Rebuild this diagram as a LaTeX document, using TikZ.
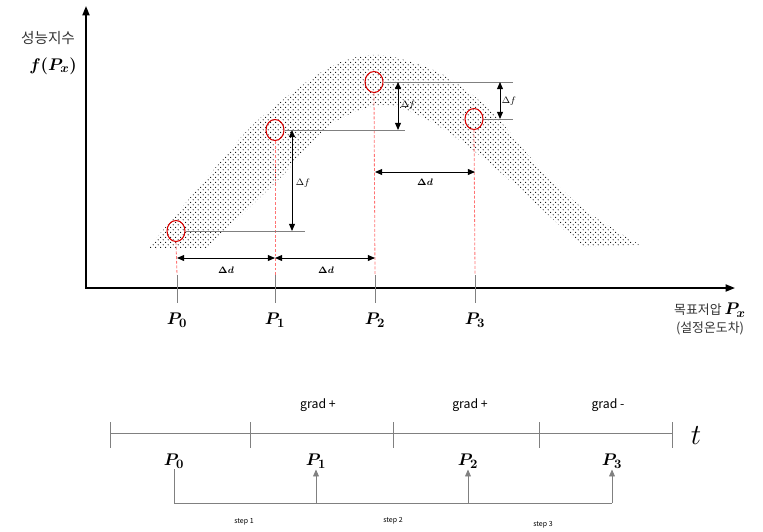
\documentclass[tikz,border=0pt]{standalone}
\usepackage{fontspec}
\usepackage{amsmath,bm}
\newfontfamily\kr{Noto Sans CJK KR}
\usetikzlibrary{arrows.meta,positioning,calc,shapes.geometric,patterns.meta}

\tikzdeclarepattern{
  name=banddots,
  type=uncolored,
  bounding box={(0pt,0pt) and (4.2pt,4.2pt)},
  tile size={(4.2pt,4.2pt)},
  code={
    \fill (1.05pt,1.05pt) circle (0.5pt);
    \fill (3.15pt,3.15pt) circle (0.5pt);
  }
}

\begin{document}
\begin{tikzpicture}[
  x=0.03cm, y=-0.03cm,
  font=\kr,
  axis/.style={line width=1.5pt, {Triangle[length=8pt,width=6pt]}-{Triangle[length=8pt,width=6pt]}},
  pt/.style={draw=red!85!black, line width=0.9pt, ellipse, inner sep=0pt, minimum width=0.54cm, minimum height=0.63cm},
  gline/.style={draw=gray, line width=0.8pt},
  rdash/.style={draw=red!55, dashed, line width=0.7pt, dash pattern=on 2.5pt off 1.5pt},
  dim/.style={line width=0.8pt, {Triangle[length=6pt,width=5pt]}-{Triangle[length=6pt,width=5pt]}},
  uparr/.style={gline, -{Triangle[length=6pt,width=5pt]}},
  plab/.style={font=\fontsize{15}{17}\selectfont, inner sep=1pt},
  dlab/.style={font=\fontsize{8}{9}\selectfont},
  glab/.style={font=\kr\fontsize{10.5}{12}\selectfont},
  slab/.style={font=\kr\fontsize{6}{7}\selectfont}
]
\useasboundingbox (0,0) rectangle (763,531);

% dotted band
\fill[pattern=banddots, pattern color=black]
  plot[smooth] coordinates {(148,248) (205,180) (258,120) (330,67) (380,55) (440,73) (490,110) (537,165) (585,210) (640,245)}
  -- plot[smooth] coordinates {(583,247) (500,172) (440,127) (385,105) (330,125) (280,178) (207,248)}
  -- cycle;

% axes
\coordinate (ytop) at (86,6);
\coordinate (xend) at (735,288);
\draw[axis] (ytop) |- (xend);
\node[font=\kr\fontsize{12.5}{14}\selectfont, text=black!80] (ylab) at (48,38) {성능지수};
\node[plab] (fpx) at (53,66) {$\bm{f(P_x)}$};
\node[align=center, font=\kr\fontsize{11}{15}\selectfont, text=black!80] (xlab) at (710,319)
  {목표저압 {\fontsize{15}{15}\selectfont\color{black}$\bm{P_x}$}\\(설정온도차)};

% sample points
\node[pt] (c0) at (176,231) {};
\node[pt] (c1) at (275,130) {};
\node[pt] (c2) at (374,82) {};
\node[pt] (c3) at (474,119) {};

% ticks and labels on the axis
\foreach \i/\x in {0/177,1/275,2/375,3/475} {
  \coordinate (t\i) at (\x,275);
  \coordinate (u\i) at (\x,303);
  \draw[gline] (t\i) -- (u\i);
  \node[plab] (p\i) at (\x,320) {$\bm{P_{\i}}$};
  \draw[rdash] (c\i.south) -- (t\i);
}

% level lines
\coordinate (e0) at (305,231);
\coordinate (e1) at (405,130);
\coordinate (e2) at (513,82);
\coordinate (e3) at (513,119);
\foreach \i in {0,...,3} \draw[gline] (c\i.east) -- (e\i);

% delta f
\coordinate (fa) at (292,130); \coordinate (fb) at (292,231);
\coordinate (fc) at (398,82);  \coordinate (fd) at (398,130);
\coordinate (fe) at (500,82);  \coordinate (ff) at (500,119);
\draw[dim] (fa) -- (fb);
\draw[dim] (fc) -- (fd);
\draw[dim] (fe) -- (ff);
\node[dlab] (df1) at (303,183) {$\Delta f$};
\node[dlab] (df2) at (408,105) {$\Delta f$};
\node[dlab] (df3) at (509,101) {$\Delta f$};

% delta d
\coordinate (da) at (177,258); \coordinate (db) at (275,258); \coordinate (dc) at (375,258);
\coordinate (dd) at (375,172); \coordinate (de) at (475,172);
\draw[dim] (da) -- (db);
\draw[dim] (db) -- (dc);
\draw[dim] (dd) -- (de);
\node[dlab] (dd1) at (226,270) {$\bm{\Delta d}$};
\node[dlab] (dd2) at (326,270) {$\bm{\Delta d}$};
\node[dlab] (dd3) at (425,182) {$\bm{\Delta d}$};

% time line
\coordinate (l0) at (110,433);
\coordinate (l4) at (672,433);
\draw[gline] (l0) -- (l4);
\foreach \x in {110,250,393,539,672} \draw[gline] (\x,422) -- (\x,448);
\node[font=\fontsize{24}{26}\selectfont] (tt) at (696,436) {$t$};
\node[glab] (g1) at (318,405) {grad +};
\node[glab] (g2) at (470,405) {grad +};
\node[glab] (g3) at (608,405) {grad -};

\foreach \i/\x in {0/174,1/316,2/468,3/612}
  \node[plab] (q\i) at (\x,461) {$\bm{P_{\i}}$};
\coordinate (b1) at (316,503);
\coordinate (b2) at (468,503);
\coordinate (b3) at (612,503);
\draw[gline] (q0.south) |- (b3);
\foreach \i in {1,2,3} \draw[uparr] (b\i) -- (q\i.south);
\node[slab] (s1) at (244,522) {step 1};
\node[slab] (s2) at (393,521) {step 2};
\node[slab] (s3) at (543,525) {step 3};
\end{tikzpicture}
\end{document}
